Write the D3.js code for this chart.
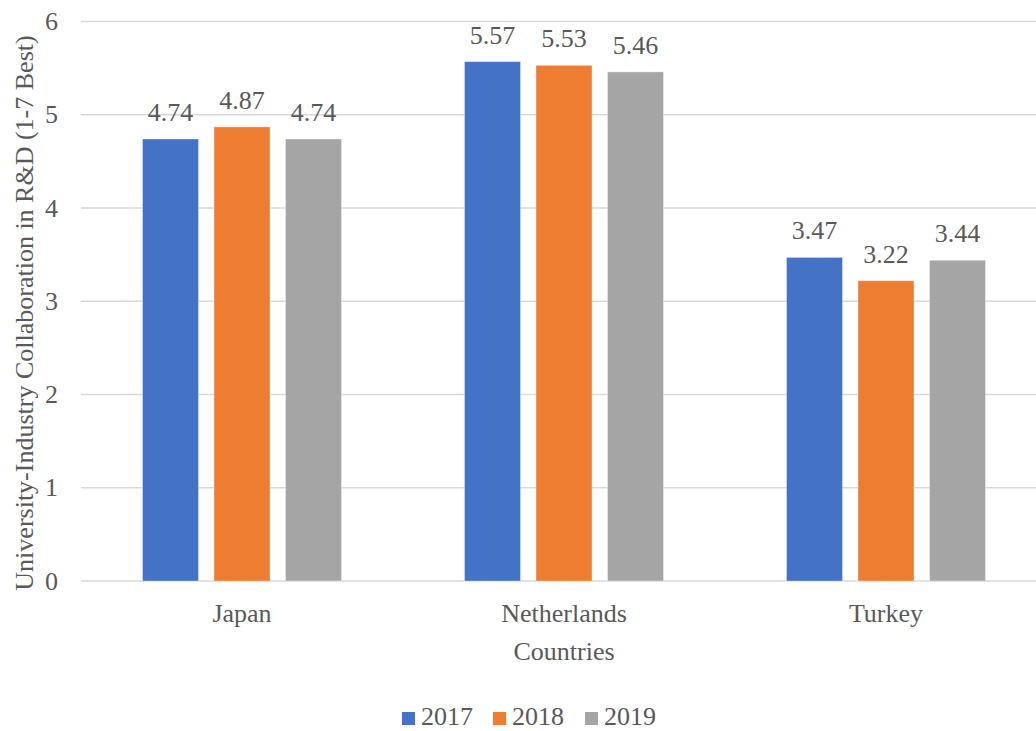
<!DOCTYPE html>
<html>
<head>
<meta charset="utf-8">
<script src="https://cdn.jsdelivr.net/npm/d3@7"></script>
<style>
  html, body { margin: 0; padding: 0; background: #fff; }
  svg { display: block; }
</style>
</head>
<body>
<svg id="chart" width="1036" height="731"></svg>
<script>
// University-industry collaboration scores by country and year
const countries = ["Japan", "Netherlands", "Turkey"];
const years = ["2017", "2018", "2019"];
const values2017 = [4.74, 5.57, 3.47];
const values2018 = [4.87, 5.53, 3.22];
const values2019 = [4.74, 5.46, 3.44];
const yTicks = [0, 1, 2, 3, 4, 5, 6];
const colors = ["#4472C4", "#ED7D31", "#A5A5A5"];

const series = [values2017, values2018, values2019];
const FONT = "'Liberation Serif', 'Times New Roman', Tinos, serif";
const INK = "#595959";

const svg = d3.select("#chart")
  .attr("font-family", FONT);

const plot = { left: 81, right: 1047, top: 21.5, bottom: 581 };

const x0 = d3.scaleBand().domain(countries).range([plot.left, plot.right]);
const x1 = d3.scaleBand().domain(years).range([0, x0.bandwidth()]).paddingInner(0.217).paddingOuter(0.86);
const y = d3.scaleLinear().domain([0, 6]).range([plot.bottom, plot.top]);

// gridlines
svg.append("g")
  .selectAll("line")
  .data(yTicks)
  .join("line")
  .attr("x1", plot.left)
  .attr("x2", plot.right)
  .attr("y1", d => y(d))
  .attr("y2", d => y(d))
  .attr("stroke", "#d9d9d9")
  .attr("stroke-width", 1.5);

// y tick labels
svg.append("g")
  .selectAll("text")
  .data(yTicks)
  .join("text")
  .attr("x", 58)
  .attr("y", d => y(d))
  .attr("dy", "0.33em")
  .attr("text-anchor", "end")
  .attr("font-family", FONT)
  .attr("fill", INK)
  .attr("font-size", 26)
  .text(d => d);

// bars
const groups = svg.append("g")
  .selectAll("g")
  .data(countries)
  .join("g")
  .attr("transform", c => `translate(${x0(c)},0)`);

groups.each(function(c, ci) {
  const g = d3.select(this);
  const rows = years.map((yr, si) => ({ yr, v: series[si][ci], color: colors[si] }));
  g.selectAll("rect")
    .data(rows)
    .join("rect")
    .attr("x", d => x1(d.yr))
    .attr("y", d => y(d.v))
    .attr("width", x1.bandwidth())
    .attr("height", d => y(0) - y(d.v))
    .attr("fill", d => d.color)
    .attr("stroke", "#fff")
    .attr("stroke-opacity", 0.35)
    .attr("stroke-width", 1);
  g.selectAll("text.val")
    .data(rows)
    .join("text")
    .attr("class", "val")
    .attr("x", d => x1(d.yr) + x1.bandwidth() / 2)
    .attr("y", d => y(d.v) - 18)
    .attr("text-anchor", "middle")
    .attr("font-family", FONT)
    .attr("fill", INK)
    .attr("font-size", 26)
    .text(d => d.v.toFixed(2));
});

// country labels
svg.append("g")
  .selectAll("text")
  .data(countries)
  .join("text")
  .attr("x", c => x0(c) + x0.bandwidth() / 2)
  .attr("y", 622)
  .attr("text-anchor", "middle")
  .attr("font-family", FONT)
  .attr("fill", INK)
  .attr("font-size", 26)
  .text(c => c);

// axis titles
svg.append("text")
  .attr("x", 564)
  .attr("y", 660)
  .attr("text-anchor", "middle")
  .attr("font-family", FONT)
  .attr("fill", INK)
  .attr("font-size", 26)
  .text("Countries");

svg.append("text")
  .attr("transform", "translate(33, 313) rotate(-90)")
  .attr("text-anchor", "middle")
  .attr("font-family", FONT)
  .attr("fill", INK)
  .attr("font-size", 26)
  .text("University-Industry Collaboration in R&D (1-7 Best)");

// legend
const legendX = [402, 493, 585];
const legend = svg.append("g")
  .selectAll("g")
  .data(years)
  .join("g")
  .attr("transform", (d, i) => `translate(${legendX[i]}, 712)`);
legend.append("rect")
  .attr("width", 13)
  .attr("height", 13)
  .attr("fill", (d, i) => colors[i]);
legend.append("text")
  .attr("x", 19)
  .attr("y", 13)
  .attr("font-family", FONT)
  .attr("fill", INK)
  .attr("font-size", 26)
  .text(d => d);
</script>
</body>
</html>
